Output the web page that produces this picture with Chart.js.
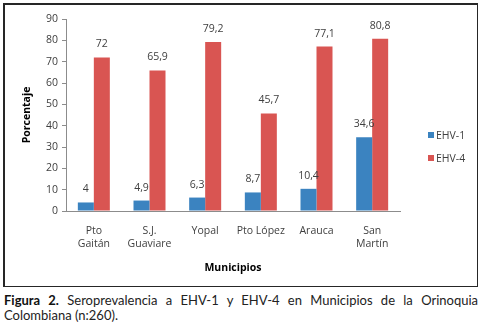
<!DOCTYPE html>
<html>
<head>
<meta charset="utf-8">
<script src="https://cdn.jsdelivr.net/npm/chart.js@4.4.1/dist/chart.umd.min.js"></script>
<style>
  html, body { margin: 0; padding: 0; background: #fff; }
  body { width: 481px; height: 331px; position: relative; overflow: hidden; }
  #box { position: absolute; left: 3px; top: 3px; width: 472px; height: 281px; border: 2px solid #262626; border-right-width: 1.5px; border-bottom-width: 1.5px; }
  #wrap { position: absolute; left: 0; top: 0; width: 472px; height: 281px; }
  #cap { position: absolute; left: 4px; top: 293px; width: 474px; font-family: Lato, "Open Sans", sans-serif; font-size: 13px; line-height: 15px; color: #222; text-align: justify; }
  #cap b { color: #111; }
</style>
</head>
<body>
<div id="box"><div id="wrap"><canvas id="c"></canvas></div></div>
<div id="cap"><b>Figura 2.</b> Seroprevalencia a EHV-1 y EHV-4 en Municipios de la Orinoquia Colombiana (n:260).</div>
<script>
const categories = [["Pto", "Gaitán"], ["S.J.", "Guaviare"], "Yopal", "Pto López", "Arauca", ["San", "Martín"]];
const seriesNames = ["EHV-1", "EHV-4"];
const ehv1 = [4, 4.9, 6.3, 8.7, 10.4, 34.6];
const ehv4 = [72, 65.9, 79.2, 45.7, 77.1, 80.8];
const yTicks = [0, 10, 20, 30, 40, 50, 60, 70, 80, 90];
const colors = ["#3b83c0", "#d95552"];

const FONT = "Open Sans, Liberation Sans, sans-serif";

const labelPlugin = {
  id: 'labels',
  afterDatasetsDraw(chart) {
    const ctx = chart.ctx;
    ctx.save();
    ctx.font = "10.5px " + FONT;
    ctx.fillStyle = "#404040";
    ctx.textAlign = "center";
    ctx.textBaseline = "middle";
    chart.data.datasets.forEach((ds, i) => {
      const meta = chart.getDatasetMeta(i);
      meta.data.forEach((bar, j) => {
        const txt = String(ds.data[j]).replace('.', ',');
        ctx.fillText(txt, bar.x, bar.y - 13);
      });
    });
    // legend
    ctx.textAlign = "left";
    const lx = 423, ly = [130, 153];
    chart.data.datasets.forEach((ds, i) => {
      ctx.fillStyle = ds.backgroundColor;
      ctx.fillRect(lx, ly[i] - 3, 6, 6);
      ctx.fillStyle = "#404040";
      ctx.fillText(ds.label, lx + 8, ly[i] + 1);
    });
    ctx.restore();
  }
};

new Chart(document.getElementById('c'), {
  type: 'bar',
  data: {
    labels: categories,
    datasets: [
      { label: seriesNames[0], data: ehv1, backgroundColor: colors[0] },
      { label: seriesNames[1], data: ehv4, backgroundColor: colors[1] }
    ]
  },
  options: {
    responsive: true,
    maintainAspectRatio: false,
    animation: false,
    events: [],
    categoryPercentage: 0.575,
    barPercentage: 1,
    layout: { padding: { top: 14, right: 77, left: 0, bottom: 8 } },
    plugins: { legend: { display: false }, tooltip: { enabled: false } },
    scales: {
      x: {
        grid: { display: false, drawTicks: false },
        border: { display: true, color: "#8c8c8c", width: 1 },
        ticks: { font: { family: FONT, size: 10.5 }, color: "#404040", padding: 14, maxRotation: 0, autoSkip: false },
        title: { display: true, text: "Municipios", font: { family: FONT, size: 10.5, weight: 'bold' }, color: "#000", padding: { top: 10 } },
        afterFit(s) { s.height = 67; }
      },
      y: {
        min: 0, max: 90,
        afterBuildTicks(s) { s.ticks = yTicks.map(v => ({ value: v })); },
        grid: { display: true, drawOnChartArea: false, drawTicks: true, tickLength: 4, color: "#8c8c8c" },
        border: { display: true, color: "#8c8c8c", width: 1 },
        ticks: { font: { family: FONT, size: 10.5 }, color: "#404040", padding: 4 },
        title: { display: true, text: "Porcentaje", font: { family: FONT, size: 10.5, weight: 'bold' }, color: "#000", padding: { top: 16, bottom: 0 } },
        afterFit(s) { s.width = 61; }
      }
    }
  },
  plugins: [labelPlugin]
});
</script>
</body>
</html>
